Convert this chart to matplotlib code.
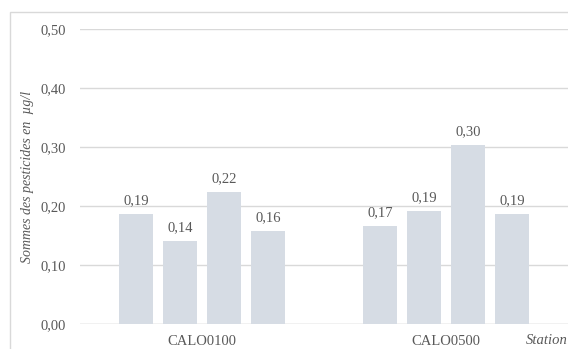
import matplotlib.pyplot as plt
from matplotlib.patches import Rectangle
import numpy as np

stations = ["CALO0100", "CALO0500"]
# four samplings per station, sum of pesticides (µg/l)
values = [
    [0.186, 0.140, 0.224, 0.158],
    [0.166, 0.192, 0.303, 0.186],
]
yticks = [0.0, 0.1, 0.2, 0.3, 0.4, 0.5]

bar_color = "#D6DCE4"
grid_color = "#D9D9D9"
text_color = "#595959"
fs = 10.5
plt.rcParams["font.family"] = ["Liberation Serif", "DejaVu Serif"]

fig = plt.figure(figsize=(5.68, 3.49), dpi=100)
ax = fig.add_axes([80 / 568, 1 - 324 / 349, 488 / 568, 295 / 349])

# outer chart border (cropped on right/bottom)
fig.patches.append(Rectangle((10 / 568, -0.1), 1.2, 1 - 12 / 349 + 0.1,
                             transform=fig.transFigure, fill=False,
                             edgecolor="#D9D9D9", linewidth=1))

x = np.arange(len(stations))
n = len(values[0])
step = 0.18
for j in range(n):
    heights = [v[j] for v in values]
    pos = x + (j - (n - 1) / 2) * step
    bars = ax.bar(pos, heights, width=0.14, color=bar_color, zorder=2)
    for b, h in zip(bars, heights):
        ax.annotate(f"{h:.2f}".replace(".", ","),
                    (b.get_x() + b.get_width() / 2, h),
                    xytext=(0, 5), textcoords="offset points",
                    ha="center", va="bottom", fontsize=fs, color=text_color)

ax.set_xlim(-0.5, 1.5)
ax.set_ylim(0, 0.5)
ax.set_yticks(yticks)
ax.set_yticklabels([f"{t:.2f}".replace(".", ",") for t in yticks],
                   fontsize=fs, color=text_color)
ax.set_xticks(x)
ax.set_xticklabels(stations, fontsize=fs, color=text_color)
ax.tick_params(length=0, pad=8)
ax.tick_params(axis="y", pad=10)
ax.grid(axis="y", color=grid_color, linewidth=1, zorder=0)
for s in ax.spines.values():
    s.set_visible(False)
ax.axhline(0, color=grid_color, linewidth=1, zorder=1)

ax.set_ylabel("Sommes des pesticides en  µg/l", fontsize=10,
              style="italic", color=text_color, labelpad=5)
fig.text(1.0, 1 - 340 / 349, "Station", ha="right", va="center",
         fontsize=fs, style="italic", color=text_color)

fig.savefig("out.png", dpi=100)
